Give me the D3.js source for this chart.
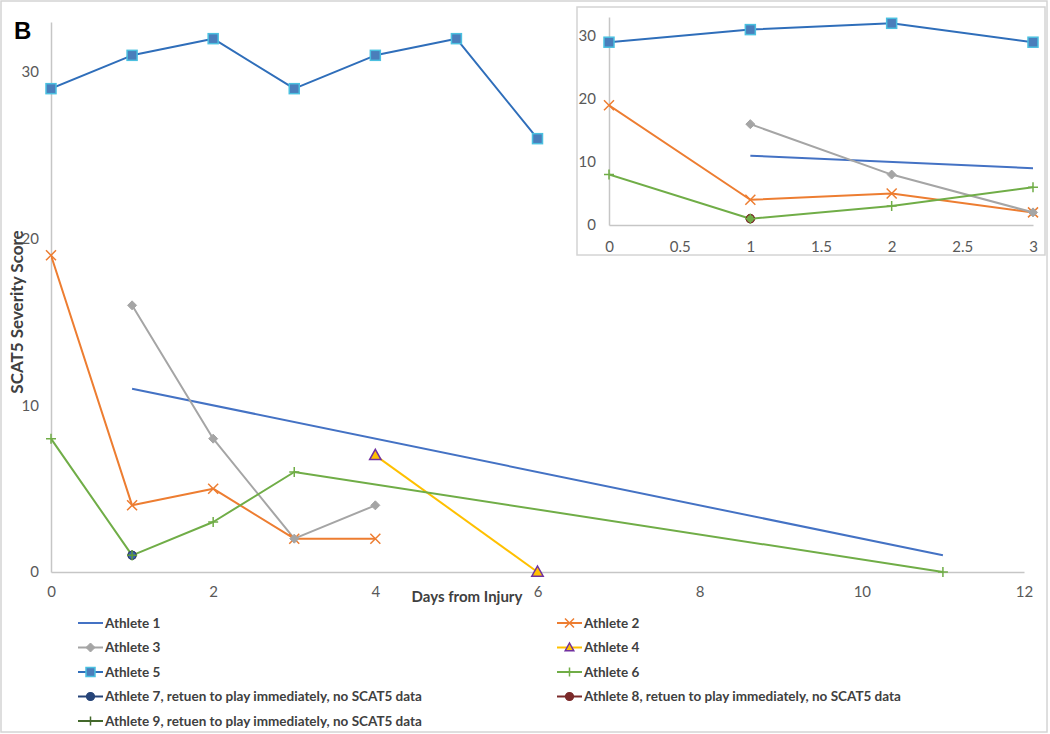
<!DOCTYPE html>
<html>
<head>
<meta charset="utf-8">
<script src="https://cdn.jsdelivr.net/npm/d3@7"></script>
<style>
  html, body { margin: 0; padding: 0; background: #fff; }
  svg { display: block; }
  text { font-family: Lato, "Open Sans", sans-serif; }
</style>
</head>
<body>
<svg id="chart" width="1050" height="734"></svg>
<script>
// ---------------- DATA ----------------
const athleteNames = [
  "Athlete 1", "Athlete 2", "Athlete 3", "Athlete 4", "Athlete 5", "Athlete 6",
  "Athlete 7, retuen to play immediately, no SCAT5 data",
  "Athlete 8, retuen to play immediately, no SCAT5 data",
  "Athlete 9, retuen to play immediately, no SCAT5 data"
];
const days1 = [1, 11];               const score1 = [11, 1];
const days2 = [0, 1, 2, 3, 4];       const score2 = [19, 4, 5, 2, 2];
const days3 = [1, 2, 3, 4];          const score3 = [16, 8, 2, 4];
const days4 = [4, 6];                const score4 = [7, 0];
const days5 = [0, 1, 2, 3, 4, 5, 6]; const score5 = [29, 31, 32, 29, 31, 32, 26];
const days6 = [0, 1, 2, 3, 11];      const score6 = [8, 1, 3, 6, 0];
const days7 = [1];                   const score7 = [1];
const days8 = [1];                   const score8 = [1];
const days9 = [1];                   const score9 = [1];

const mainXTicks = [0, 2, 4, 6, 8, 10, 12];
const insetXTicks = [0, 0.5, 1, 1.5, 2, 2.5, 3];
const yTicks = [0, 10, 20, 30];

const allDays = [days1, days2, days3, days4, days5, days6, days7, days8, days9];
const allScores = [score1, score2, score3, score4, score5, score6, score7, score8, score9];

// ---------------- STYLES ----------------
const styles = [
  { line: "#4472C4", marker: "none" },
  { line: "#ED7D31", marker: "x", stroke: "#ED7D31", size: 5 },
  { line: "#A5A5A5", marker: "diamond", fill: "#A5A5A5", stroke: "#A5A5A5", size: 4.5 },
  { line: "#FFC000", marker: "triangle", fill: "#FFC000", stroke: "#7030A0", size: 6 },
  { line: "#2F6EBA", marker: "square", fill: "#4A7EBB", stroke: "#4BC0E0", size: 5 },
  { line: "#70AD47", marker: "plus", stroke: "#70AD47", size: 5 },
  { line: "#264478", marker: "circle", fill: "#3B64B0", stroke: "#264478", size: 4 },
  { line: "#7B2A2A", marker: "circle", fill: "#7B2A2A", stroke: "#7B2A2A", size: 4 },
  { line: "#43682B", marker: "plus", stroke: "#5E9A3A", size: 5 }
];
// drawing order of markers (later on top)
const markerOrder = [0, 1, 2, 3, 4, 5, 7, 6, 8];

const series = athleteNames.map((name, i) => ({
  name, i,
  pts: allDays[i].map((d, k) => ({ x: d, y: allScores[i][k] })),
  st: styles[i]
}));

const svg = d3.select("#chart");

// outer border
svg.append("rect").attr("x", 1).attr("y", 1).attr("width", 1046).attr("height", 731)
  .attr("fill", "#fff").attr("stroke", "#D4D4D4").attr("stroke-width", 1.5);

function drawMarker(g, st, cx, cy, override) {
  const s = Object.assign({}, st, override || {});
  const r = s.size;
  if (s.marker === "square") {
    g.append("rect").attr("x", cx - r).attr("y", cy - r).attr("width", 2 * r).attr("height", 2 * r)
      .attr("fill", s.fill).attr("stroke", s.stroke).attr("stroke-width", 1.5);
  } else if (s.marker === "x") {
    g.append("path").attr("d", `M${cx - r},${cy - r}L${cx + r},${cy + r}M${cx - r},${cy + r}L${cx + r},${cy - r}`)
      .attr("stroke", s.stroke).attr("stroke-width", 1.5).attr("fill", "none");
  } else if (s.marker === "plus") {
    g.append("path").attr("d", `M${cx - r},${cy}L${cx + r},${cy}M${cx},${cy - r}L${cx},${cy + r}`)
      .attr("stroke", s.stroke).attr("stroke-width", 1.5).attr("fill", "none");
  } else if (s.marker === "diamond") {
    g.append("path").attr("d", `M${cx},${cy - r}L${cx + r},${cy}L${cx},${cy + r}L${cx - r},${cy}Z`)
      .attr("fill", s.fill).attr("stroke", s.stroke).attr("stroke-width", 1);
  } else if (s.marker === "triangle") {
    g.append("path").attr("d", `M${cx},${cy - r}L${cx + r * 0.95},${cy + r * 0.7}L${cx - r * 0.95},${cy + r * 0.7}Z`)
      .attr("fill", s.fill).attr("stroke", s.stroke).attr("stroke-width", 1.5);
  } else if (s.marker === "circle") {
    g.append("circle").attr("cx", cx).attr("cy", cy).attr("r", r)
      .attr("fill", s.fill).attr("stroke", s.stroke).attr("stroke-width", 1.2);
  }
}

function drawPanel(opts) {
  const { x, y, xTicks, clipId, xmax, markerOverride, padX, padY } = opts;
  const g = svg.append("g");
  const xAxis = d3.axisBottom(x).tickValues(xTicks).tickSize(0).tickPadding(padX)
    .tickFormat(d3.format("~g"));
  const yAxis = d3.axisLeft(y).tickValues(yTicks).tickSize(0).tickPadding(padY);
  const gx = g.append("g").attr("transform", `translate(0,${y(0)})`).call(xAxis);
  const gy = g.append("g").attr("transform", `translate(${x(0)},0)`).call(yAxis);
  [gx, gy].forEach(a => {
    a.select(".domain").attr("stroke", "#C6C6C6").attr("stroke-width", 1.5);
    a.selectAll("text").attr("fill", "#595959").style("font-size", "15px")
      .style("font-family", "Lato, sans-serif");
  });

  svg.append("clipPath").attr("id", clipId).append("rect")
    .attr("x", x(0)).attr("y", y(33) - 2).attr("width", x(xmax) - x(0)).attr("height", y(0) - y(33) + 4);

  const line = d3.line().x(d => x(d.x)).y(d => y(d.y));
  const lg = g.append("g").attr("clip-path", `url(#${clipId})`);
  series.forEach(s => {
    if (s.pts.length > 1) {
      lg.append("path").datum(s.pts).attr("d", line)
        .attr("fill", "none").attr("stroke", s.st.line).attr("stroke-width", 2)
        .attr("stroke-linejoin", "round");
    }
  });
  const mg = g.append("g");
  markerOrder.forEach(idx => {
    const s = series[idx];
    s.pts.filter(p => p.x <= xmax).forEach(p => {
      drawMarker(mg, s.st, x(p.x), y(p.y), markerOverride ? markerOverride[s.i] : null);
    });
  });
  return g;
}

// ---------------- MAIN CHART ----------------
const xMain = d3.scaleLinear().domain([0, 12]).range([51, 1024]);
const yMain = d3.scaleLinear().domain([0, 33]).range([572, 22]);
drawPanel({ x: xMain, y: yMain, xTicks: mainXTicks, clipId: "clipMain", xmax: 12, padX: 14, padY: 12 });

// axis titles
svg.append("text").attr("x", 467).attr("y", 602).attr("text-anchor", "middle")
  .attr("fill", "#404040").style("font-size", "15px").style("font-weight", "bold")
  .text("Days from Injury");
svg.append("text").attr("transform", "translate(23,312) rotate(-90)").attr("text-anchor", "middle")
  .attr("fill", "#404040").style("font-size", "17px").style("font-weight", "bold")
  .text("SCAT5 Severity Score");

// panel letter
svg.append("text").attr("x", 14).attr("y", 39).attr("fill", "#000")
  .style("font-family", "'Liberation Sans', Arial, sans-serif")
  .style("font-size", "24px").style("font-weight", "bold").text("B");

// ---------------- INSET ----------------
svg.append("rect").attr("x", 577).attr("y", 7).attr("width", 468).attr("height", 248)
  .attr("fill", "#fff").attr("stroke", "#D4D4D4").attr("stroke-width", 1.5);
const xIn = d3.scaleLinear().domain([0, 3]).range([609, 1033]);
const yIn = d3.scaleLinear().domain([0, 33]).range([225, 17]);
drawPanel({
  x: xIn, y: yIn, xTicks: insetXTicks, clipId: "clipInset", xmax: 3, padX: 16, padY: 13,
  markerOverride: { 6: { fill: "#70AD47", stroke: "#7B2A2A" }, 7: { fill: "#70AD47", stroke: "#7B2A2A" }, 8: { stroke: "#70AD47" } }
});

// ---------------- LEGEND ----------------
const legend = svg.append("g");
series.forEach((s, i) => {
  const col = i % 2, row = Math.floor(i / 2);
  const lx = col === 0 ? 78 : 557;
  const ly = 623 + row * 24.5;
  const item = legend.append("g");
  item.append("line").attr("x1", lx).attr("x2", lx + 25).attr("y1", ly).attr("y2", ly)
    .attr("stroke", s.st.line).attr("stroke-width", 2);
  const ov = { size: Math.min(s.st.size || 0, 4.5) };
  if (s.i === 6) ov.fill = "#264478";
  if (s.i === 8) ov.stroke = "#43682B";
  drawMarker(item, s.st, lx + 12.5, ly, ov);
  item.append("text").attr("x", lx + 27).attr("y", ly).attr("dy", "0.35em")
    .attr("fill", "#404040").style("font-size", "13.5px").style("font-weight", "bold")
    .text(s.name);
});
</script>
</body>
</html>
